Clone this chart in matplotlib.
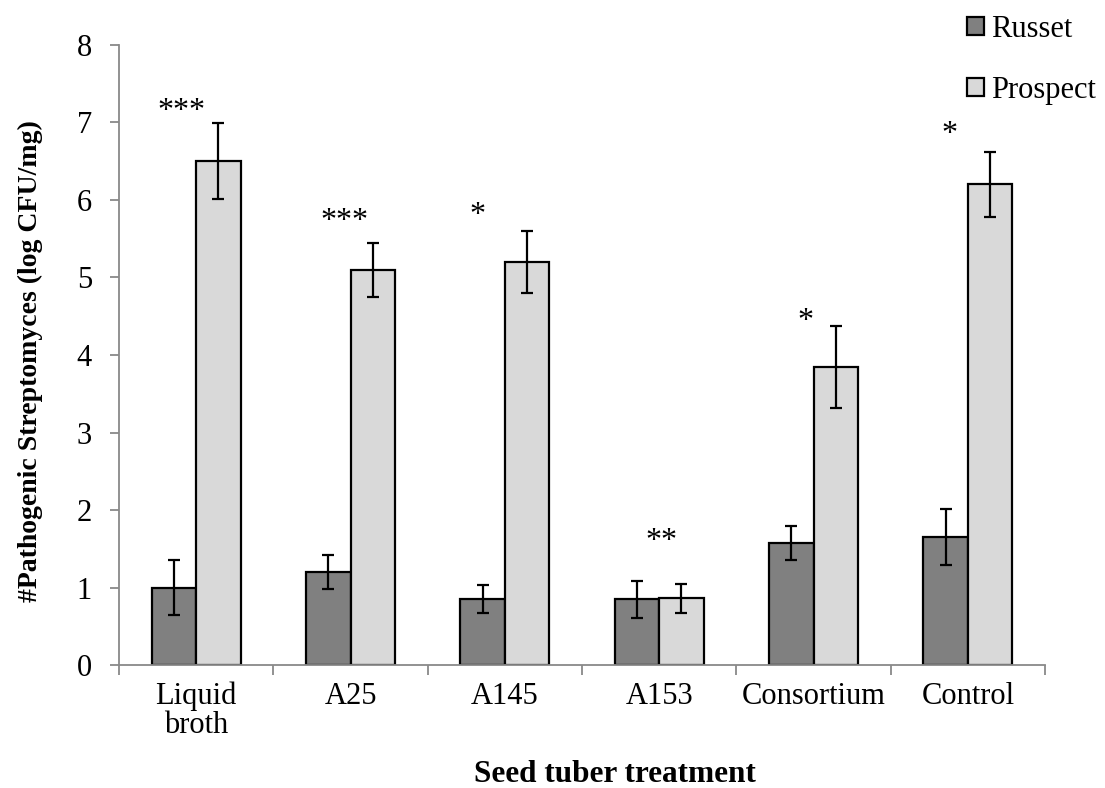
import numpy as np
import matplotlib.pyplot as plt

plt.rcParams['font.family'] = ['Liberation Serif', 'DejaVu Serif']

categories = ["Liquid\nbroth", "A25", "A145", "A153", "Consortium", "Control"]
russet = [1.0, 1.2, 0.85, 0.85, 1.57, 1.65]
russet_err = [0.36, 0.22, 0.18, 0.24, 0.22, 0.36]
prospect = [6.5, 5.1, 5.2, 0.86, 3.85, 6.2]
prospect_err = [0.49, 0.35, 0.40, 0.19, 0.53, 0.42]
stars = ["***", "***", "*", "**", "*", "*"]
star_y = [7.2, 5.77, 5.85, 1.65, 4.48, 6.9]
star_dx = [-0.094, -0.042, -0.18, 0.013, -0.055, -0.117]

fig = plt.figure(figsize=(11.05, 7.88), dpi=100)
ax = fig.add_axes([0.1077, 0.156, 0.838, 0.787])

x = np.arange(len(categories))
w = 0.288
ekw = dict(elinewidth=1.6, capthick=1.6, capsize=4.5, ecolor='black')
ax.bar(x - w / 2, russet, w, color='#808080', edgecolor='black', linewidth=1.6,
       yerr=russet_err, error_kw=ekw, label='Russet', zorder=2)
ax.bar(x + w / 2, prospect, w, color='#d9d9d9', edgecolor='black', linewidth=1.6,
       yerr=prospect_err, error_kw=ekw, label='Prospect', zorder=2)

# significance markers (asterisk glyph sits above the baseline)
for i, s in enumerate(stars):
    ax.text(x[i] + star_dx[i], star_y[i] - 0.15, s, ha='center', va='baseline',
            fontsize=23)

ax.set_xlim(-0.5, len(categories) - 0.5)
ax.set_ylim(0, 8)
ax.set_yticks(range(0, 9))
ax.set_xticks(x)
ax.set_xticklabels(categories, fontsize=22, linespacing=1.0)
ax.set_xticks(np.arange(-0.5, len(categories)), minor=True)
ax.tick_params(axis='x', which='major', length=0, pad=12)
ax.tick_params(axis='x', which='minor', length=7, width=1.3, color='#898989')
ax.tick_params(axis='y', labelsize=22, length=6.5, width=1.3, color='#898989', pad=13)

for side in ['top', 'right']:
    ax.spines[side].set_visible(False)
for side in ['left', 'bottom']:
    ax.spines[side].set_color('#898989')
    ax.spines[side].set_linewidth(1.3)

ax.set_xlabel("Seed tuber treatment", fontsize=22.5, fontweight='bold')
ax.xaxis.set_label_coords(0.536, -0.153)
ax.set_ylabel("#Pathogenic Streptomyces (log CFU/mg)", fontsize=20, fontweight='bold')
ax.yaxis.set_label_coords(-0.082, 0.49)

fig.legend(loc='upper left', bbox_to_anchor=(0.875, 0.981), frameon=False, fontsize=22,
           borderpad=0, borderaxespad=0,
           handlelength=0.55, handleheight=0.55, handletextpad=0.25, labelspacing=1.05)

fig.savefig("out.png", dpi=100)
